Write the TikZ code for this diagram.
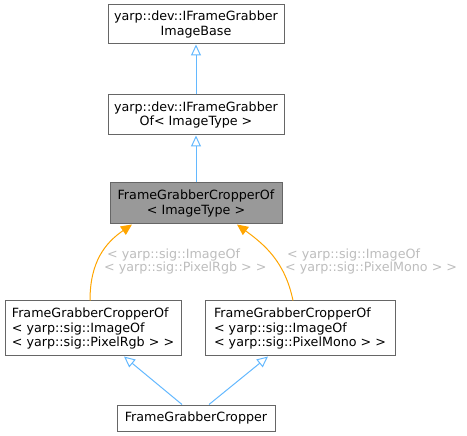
\documentclass[tikz,border=0pt]{standalone}
\usepackage{fontspec}
\setmainfont{DejaVu Sans}
\usetikzlibrary{arrows.meta}
\definecolor{edgeblue}{HTML}{63B8FF}
\definecolor{edgeorange}{HTML}{FFA500}
\definecolor{bordergray}{HTML}{666666}
\definecolor{fillgray}{HTML}{999999}
\definecolor{labelgray}{HTML}{BDBDBD}
\tikzset{
  cls/.style={draw=bordergray, line width=1pt, inner sep=0pt, align=center,
    font=\fontsize{12.7}{14.3}\selectfont},
  clsl/.style={cls, align=left},
  inh/.style={draw=edgeblue, line width=1pt, -{Triangle[open,length=11,width=10]}},
  tpl/.style={draw=edgeorange, line width=1pt, -{Triangle[length=11,width=10]}},
  elabel/.style={text=labelgray, align=left, inner sep=0pt, anchor=west,
    font=\fontsize{12.7}{13.3}\selectfont}
}
\begin{document}
\begin{tikzpicture}[x=1pt,y=-1pt]
\useasboundingbox (0,0) rectangle (467,436);
\node[cls, minimum width=176, minimum height=39] (base) at (196,24.5) {yarp::dev::IFrameGrabber\\ImageBase};
\node[cls, minimum width=176, minimum height=40] (ofimg) at (196,115) {yarp::dev::IFrameGrabber\\Of< ImageType >};
\node[cls, fill=fillgray, minimum width=172, minimum height=41] (crop) at (196,203.5) {FrameGrabberCropperOf\\< ImageType >};
\node[clsl, minimum width=176, minimum height=55] (rgb) at (93,328.5) {FrameGrabberCropperOf\\< yarp::sig::ImageOf\\< yarp::sig::PixelRgb > >};
\node[clsl, minimum width=190, minimum height=55] (mono) at (300,328.5) {FrameGrabberCropperOf\\< yarp::sig::ImageOf\\< yarp::sig::PixelMono > >};
\node[cls, minimum width=158, minimum height=26] (fgc) at (196,418) {FrameGrabberCropper};
\draw[inh] (ofimg.north) -- (base.south);
\draw[inh] (crop.north) -- (ofimg.south);
\draw[inh] ([xshift=-14pt]fgc.north) -- ([xshift=31pt]rgb.south);
\draw[inh] ([xshift=13pt]fgc.north) -- ([xshift=-32pt]mono.south);
\draw[tpl] ([xshift=-3pt]rgb.north) .. controls (90,262) and (105,243) .. ([xshift=-64pt]crop.south);
\draw[tpl] ([xshift=-7pt]mono.north) .. controls (285,262) and (265,245) .. ([xshift=41pt]crop.south);
\node[elabel] (lbl1) at (104,261.5) {\hspace*{3pt}< yarp::sig::ImageOf\\< yarp::sig::PixelRgb > >};
\node[elabel] (lbl2) at (285,261.5) {\hspace*{2pt}< yarp::sig::ImageOf\\< yarp::sig::PixelMono > >};
\end{tikzpicture}
\end{document}
